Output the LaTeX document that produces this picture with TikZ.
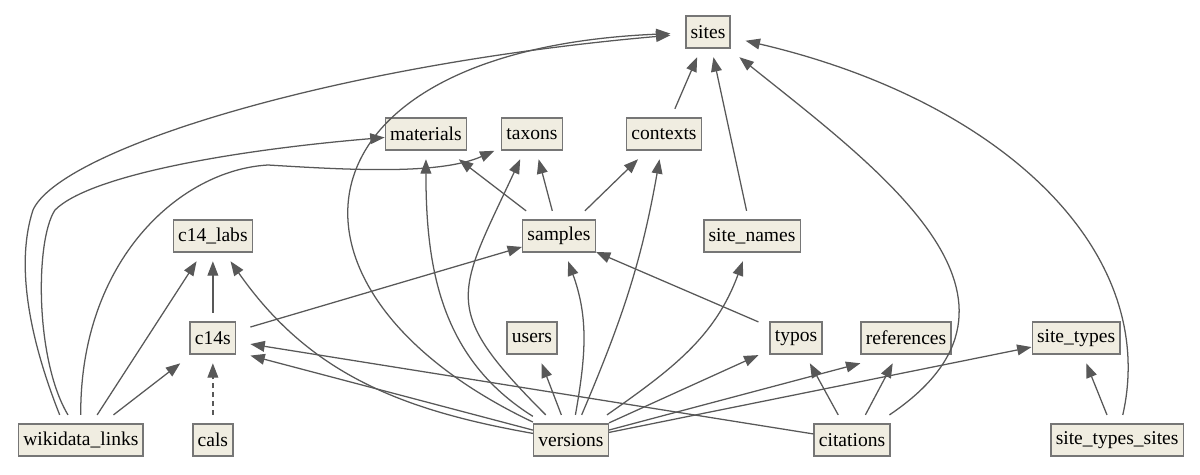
\documentclass[tikz,border=0pt]{standalone}
\usepackage{fontspec}
\setmainfont{Liberation Serif}
\usepackage{tikz}
\usetikzlibrary{arrows.meta}
\definecolor{tblfill}{RGB}{240,237,225}
\definecolor{tblline}{RGB}{118,118,118}
\definecolor{edgeline}{RGB}{88,88,88}
\tikzstyle{tbl}   = [rectangle, minimum height=.8cm, inner xsep=.12cm, inner ysep=0pt, outer ysep=.23cm, text centered, draw=tblline, line width=1pt, fill=tblfill, font=\fontsize{13.9}{16}\selectfont]
\tikzstyle{arrow} = [draw=edgeline, line width=.9pt, -{Triangle[length=3.6mm, width=2.7mm]}]

\begin{document}
\begin{tikzpicture}[node distance=2.55cm, x=.025cm, y=-.025cm]
    \useasboundingbox (0,0) rectangle (1200,474);

    \node (sites)            [tbl, outer xsep=.385cm] at (708,32)            {sites};
    \node (taxons)           [tbl, outer xsep=.18cm, below of=sites, xshift=-4.4cm] {taxons};
    \node (materials)        [tbl, left of=taxons, xshift=-.1cm]           {materials};
    \node (contexts)         [tbl, below of=sites, xshift=-1.1cm]          {contexts};
    \node (samples)          [tbl, below of=taxons, xshift=.675cm]         {samples};
    \node (c14_labs)         [tbl, below of=materials, xshift=-5.325cm]    {c14\_labs};
    \node (site_names)       [tbl, below of=contexts, xshift=2.2cm]        {site\_names};
    \node (c14s)             [tbl, outer xsep=.37cm, below of=c14_labs]    {c14s};
    \node (users)            [tbl, outer xsep=.32cm, below of=samples, xshift=-.675cm] {users};
    \node (typos)            [tbl, outer xsep=.29cm, below of=site_names, xshift=1.1cm] {typos};
    \node (references)       [tbl, right of=typos, xshift=.2cm]            {references};
    \node (site_types)       [tbl, right of=references, xshift=1.7cm]      {site\_types};
    \node (cals)             [tbl, outer xsep=.44cm, below of=c14s]        {cals};
    \node (wikidata_links)   [tbl, left of=cals, xshift=-.75cm]            {wikidata\_links};
    \node (versions)         [tbl, below of=users, xshift=.975cm]          {versions};
    \node (citations)        [tbl, below of=typos, xshift=1.4cm]           {citations};
    \node (site_types_sites) [tbl, below of=site_types, xshift=1.025cm]    {site\_types\_sites};

    \draw [arrow] (wikidata_links.130) .. controls (30,340) and (15,265) .. (33,210)
                  .. controls (60,150) and (330,65) .. (sites);
    \draw [arrow] (wikidata_links.117) .. controls (35,360) and (35,240) .. (55,210)
                  .. controls (90,175) and (235,150) .. (materials);
    \draw [arrow] (wikidata_links) .. controls (80,260) and (180,170) .. (268,165)
                  .. controls (350,170) and (440,175) .. (taxons);
    \draw [arrow] (wikidata_links) -- (c14_labs);
    \draw [arrow] (wikidata_links) -- (c14s);
    \draw [arrow] (c14s) -- (c14_labs);
    \draw [arrow] (c14s) -- (samples);
    \draw [arrow, dash pattern=on 3.5pt off 2.8pt] (cals) -- (c14s);

    \draw [arrow] (versions) to[out=170, in=-55] (c14_labs);
    \draw [arrow] (versions) -- (c14s.-25);
    \draw [arrow] (versions) .. controls (255,290) and (285,50) .. (sites);
    \draw [arrow] (versions) to[out=148, in=-90] (materials);
    \draw [arrow] (versions) to[out=135, in=-115, looseness=1.5] (taxons);
    \draw [arrow] (versions) -- (users);
    \draw [arrow] (versions) to[out=80, in=-70] (samples);
    \draw [arrow] (versions) to[out=67, in=-100] (contexts);
    \draw [arrow] (versions) to[out=35, in=-110] (site_names);
    \draw [arrow] (versions) -- (typos);
    \draw [arrow] (versions) -- (references.south west);
    \draw [arrow] (versions) -- (site_types);

    \draw [arrow] (samples) -- (materials);
    \draw [arrow] (samples) -- (taxons);
    \draw [arrow] (samples) -- (contexts);
    \draw [arrow] (contexts) -- (sites);
    \draw [arrow] (site_names) -- (sites);
    \draw [arrow] (typos) -- (samples);

    \draw [arrow] (citations) -- (typos);
    \draw [arrow] (citations) -- (references);
    \draw [arrow] (citations) -- (c14s);
    \draw [arrow] (citations) .. controls (1060,300) and (880,170) .. (sites);
    \draw [arrow] (site_types_sites) -- (site_types);
    \draw [arrow] (site_types_sites) .. controls (1160,250) and (1000,100) .. (sites);
\end{tikzpicture}
\end{document}
